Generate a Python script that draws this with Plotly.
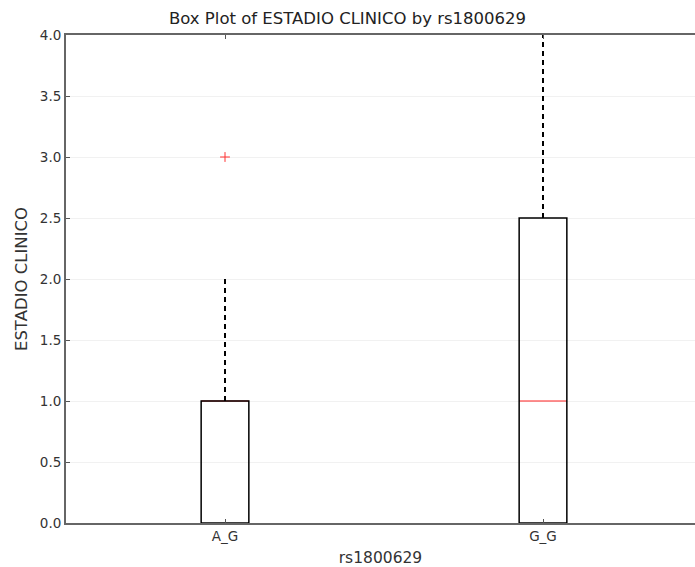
import plotly.graph_objects as go

# ---- data ----
categories = ["A_G", "G_G"]
positions = [1, 2]
q1 = [0.0, 0.0]
median = [1.0, 1.0]
q3 = [1.0, 2.5]
lower_whisker = [0.0, 0.0]
upper_whisker = [2.0, 4.0]
outlier_pos = [1]
outlier_vals = [3.0]
y_ticks = [0.0, 0.5, 1.0, 1.5, 2.0, 2.5, 3.0, 3.5, 4.0]

box_width = 0.15
font_family = "DejaVu Sans"

fig = go.Figure()

for p, a, m, b, lo, hi in zip(positions, q1, median, q3, lower_whisker, upper_whisker):
    left, right = p - box_width / 2, p + box_width / 2
    # median (red)
    fig.add_trace(go.Scatter(x=[left, right], y=[m, m], mode="lines",
                             line=dict(color="#ff2020", width=1), hoverinfo="skip", showlegend=False))
    # box
    fig.add_trace(go.Scatter(x=[left, right, right, left, left], y=[a, a, b, b, a], mode="lines",
                             line=dict(color="black", width=1.5), hoverinfo="skip", showlegend=False))
    # whiskers
    fig.add_trace(go.Scatter(x=[p, p], y=[b, hi], mode="lines",
                             line=dict(color="black", width=2, dash="5px,4px"), hoverinfo="skip", showlegend=False))
    fig.add_trace(go.Scatter(x=[p, p], y=[a, lo], mode="lines",
                             line=dict(color="black", width=2, dash="5px,4px"), hoverinfo="skip", showlegend=False))

fig.add_trace(go.Scatter(x=outlier_pos, y=outlier_vals, mode="markers",
                         marker=dict(symbol="cross-thin", size=7, line=dict(color="#ff3030", width=1)),
                         hoverinfo="skip", showlegend=False))

fig.update_layout(
    width=695, height=567,
    margin=dict(l=66, r=0, t=35, b=44, autoexpand=False),
    paper_bgcolor="white", plot_bgcolor="white",
    font=dict(family=font_family, size=13, color="#333"),
    title=dict(text="Box Plot of ESTADIO CLINICO by rs1800629", x=0.5, xref="container",
               xanchor="center", y=1 - 18 / 567, yanchor="middle", yref="container",
               font=dict(family=font_family, size=16.5, color="#222")),
    xaxis=dict(range=[0.5, 2.478], tickvals=positions, ticktext=categories,
               ticks="inside", ticklen=4, tickcolor="#555", mirror="ticks",
               showline=True, linecolor="#666", linewidth=2, showgrid=False, zeroline=False,
               title=dict(text="rs1800629", font=dict(size=15.5), standoff=9),
               tickfont=dict(size=13.5, color="#333")),
    yaxis=dict(range=[0, 4], tickvals=y_ticks, tickformat=".1f",
               ticks="inside", ticklen=4, tickcolor="#555",
               showline=True, linecolor="#666", linewidth=2,
               showgrid=True, gridcolor="#f1f1f1", gridwidth=1, zeroline=False,
               title=dict(text="ESTADIO CLINICO", font=dict(size=16.5), standoff=8),
               tickfont=dict(size=13.5, color="#333")),
)

fig.write_html("out.html")
